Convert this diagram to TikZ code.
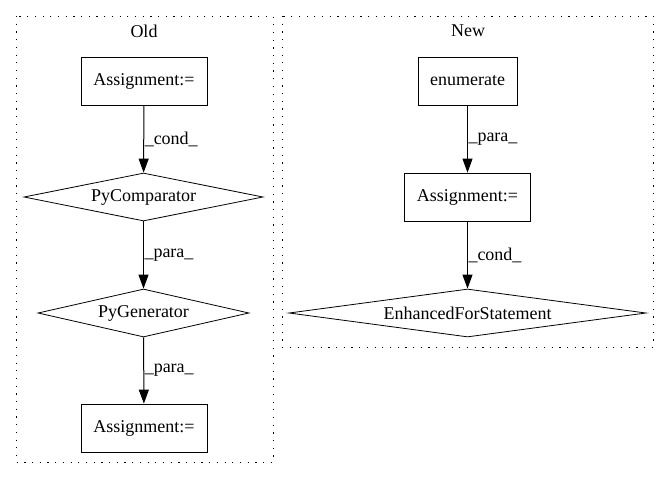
\documentclass[tikz,border=0pt]{standalone}
\usepackage{fontspec}
\setmainfont{Liberation Serif}
\usetikzlibrary{shapes.geometric,arrows.meta}
\begin{document}
\begin{tikzpicture}[x=1pt,y=-1pt,font=\fontsize{18}{21}\selectfont]

    \tikzset{
      stmt/.style={
        draw,
        rectangle,
        line width=0.8pt,
        inner sep=0pt,
        minimum height=48pt,
      },
      cmp/.style={
        draw,
        diamond,
        aspect=6,
        line width=0.8pt,
        inner sep=0pt,
        minimum height=48pt,
      },
      flow/.style={
        line width=1pt,
        -{Triangle[length=14pt,width=10pt]},
      },
      lbl/.style={right,inner sep=0.5pt},
      cluster/.style={line width=0.9pt,dash pattern=on 1.2pt off 6.5pt},
    }
    \useasboundingbox (0,0) rectangle (669,480);
	% old version
	\draw[cluster] (16,16) rectangle (273,462);
	\node (oldTitle) at (144,31) {Old};
	\node[stmt,minimum width=126pt] (oldAssignTop) at (144,81) {Assignment:=};
	\node[cmp,minimum width=239pt] (pyCmp) at (143.5,197) {PyComparator};
	\node[cmp,minimum width=211pt] (pyGen) at (143.5,313) {PyGenerator};
	\node[stmt,minimum width=126pt] (oldAssignBot) at (144,428) {Assignment:=};
	\draw[flow] (oldAssignTop) -- node[lbl] {\_cond\_} (pyCmp);
	\draw[flow] (pyCmp) -- node[lbl] {\_para\_} (pyGen);
	\draw[flow] (pyGen) -- node[lbl] {\_para\_} (oldAssignBot);

	% new version
	\draw[cluster] (282,16) rectangle (653,347);
	\node (newTitle) at (468,31) {New};
	\node[stmt,minimum width=99pt] (enumNode) at (467.5,81) {enumerate};
	\node[stmt,minimum width=126pt] (newAssign) at (467.5,197) {Assignment:=};
	\node[cmp,minimum width=357pt] (forStmt) at (467.5,313) {EnhancedForStatement};
	\draw[flow] (enumNode) -- node[lbl] {\_para\_} (newAssign);
	\draw[flow] (newAssign) -- node[lbl] {\_cond\_} (forStmt);

\end{tikzpicture}
\end{document}
